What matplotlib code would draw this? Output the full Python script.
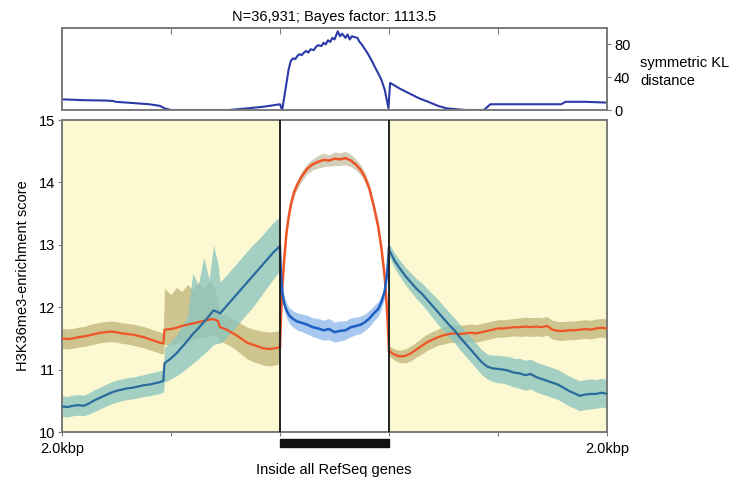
import numpy as np
import matplotlib
matplotlib.use('Agg')
import matplotlib.pyplot as plt
from matplotlib.patches import Rectangle

plt.rcParams['font.family'] = ['Liberation Sans', 'DejaVu Sans']

# x: 0-2 upstream flank, 2-3 gene body (scaled), 3-5 downstream flank
kl_x = [0, .2, .4, .47, .49, .6, .8, .9, .94, 1.0, 1.2, 1.4, 1.53, 1.7, 1.85, 1.95, 2.0, 2.02,
        2.05, 2.08, 2.1, 2.12, 2.14, 2.16, 2.18, 2.2, 2.22, 2.24, 2.26, 2.28, 2.31, 2.33, 2.35,
        2.38, 2.4, 2.42, 2.44, 2.46, 2.48, 2.5, 2.53, 2.55, 2.57, 2.6, 2.62, 2.64, 2.66, 2.68,
        2.71, 2.73, 2.75, 2.78, 2.8, 2.83, 2.85, 2.88, 2.9, 2.93, 2.96, 2.98, 2.995, 3.01, 3.05,
        3.1, 3.19, 3.28, 3.36, 3.45, 3.53, 3.7, 3.87, 3.93, 4.2, 4.4, 4.58, 4.62, 4.8, 5.0]
kl_y = [13, 12, 11.5, 11, 10, 9, 7, 5, 2, 0, 0, 0, 0, 2, 4, 6, 7, 0,
        25, 50, 60, 63, 62, 66, 68, 67, 70, 72, 70, 74, 73, 77, 79,
        78, 82, 80, 85, 83, 88, 86, 96, 90, 93, 88, 92, 86, 90, 89,
        88, 83, 80, 74, 70, 63, 58, 50, 45, 37, 25, 12, 2, 33, 30,
        26, 20, 14, 10, 5, 2, 0, 0, 7, 7, 7, 7, 10, 10, 9]

# upstream flank
up_x = [0, .05, .1, .15, .2, .25, .3, .35, .4, .45, .5, .55, .6, .65, .7, .75, .8, .85, .9, .93,
        .94, 1.0, 1.05, 1.1, 1.15, 1.2, 1.25, 1.3, 1.35, 1.39, 1.43, 1.45, 1.5, 1.55, 1.6, 1.65,
        1.7, 1.75, 1.8, 1.85, 1.9, 1.95, 2.0]
up_blue = [10.41, 10.40, 10.42, 10.43, 10.42, 10.46, 10.51, 10.55, 10.59, 10.63, 10.66, 10.68,
           10.70, 10.71, 10.73, 10.75, 10.76, 10.78, 10.80, 10.82,
           11.10, 11.18, 11.26, 11.36, 11.46, 11.57, 11.66, 11.76, 11.86, 11.95, 11.92, 11.90,
           12.00, 12.10, 12.20, 12.30, 12.40, 12.50, 12.60, 12.70, 12.80, 12.90, 12.98]
up_blue_lo = [10.25, 10.24, 10.26, 10.27, 10.26, 10.29, 10.33, 10.37, 10.41, 10.45, 10.48, 10.50,
              10.52, 10.53, 10.55, 10.57, 10.58, 10.60, 10.62, 10.64,
              10.80, 10.85, 10.90, 10.96, 11.03, 11.10, 11.17, 11.25, 11.33, 11.40, 11.42, 11.42,
              11.50, 11.60, 11.70, 11.80, 11.90, 12.00, 12.12, 12.24, 12.36, 12.48, 12.58]
up_blue_hi = [10.58, 10.57, 10.59, 10.60, 10.59, 10.63, 10.68, 10.72, 10.76, 10.80, 10.83, 10.85,
              10.87, 10.88, 10.90, 10.92, 10.94, 10.96, 10.98, 11.00,
              11.35, 11.45, 11.55, 11.70, 11.85, 12.55, 12.35, 12.80, 12.45, 13.00, 12.70, 12.40,
              12.50, 12.60, 12.70, 12.80, 12.90, 13.00, 13.08, 13.18, 13.28, 13.38, 13.45]
up_or = [11.50, 11.49, 11.50, 11.52, 11.53, 11.55, 11.57, 11.59, 11.60, 11.61, 11.60, 11.58,
         11.57, 11.56, 11.54, 11.52, 11.49, 11.46, 11.43, 11.42,
         11.64, 11.65, 11.67, 11.70, 11.72, 11.74, 11.76, 11.78, 11.80, 11.81, 11.78, 11.68,
         11.65, 11.60, 11.55, 11.49, 11.43, 11.40, 11.37, 11.34, 11.33, 11.34, 11.36]
up_or_lo = [11.34, 11.33, 11.34, 11.36, 11.37, 11.39, 11.41, 11.43, 11.44, 11.45, 11.44, 11.42,
            11.41, 11.39, 11.37, 11.35, 11.32, 11.29, 11.26, 11.25,
            11.40, 11.40, 11.42, 11.45, 11.47, 11.49, 11.50, 11.52, 11.54, 11.55, 11.53, 11.45,
            11.42, 11.37, 11.31, 11.24, 11.17, 11.13, 11.10, 11.07, 11.06, 11.07, 11.10]
up_or_hi = [11.66, 11.65, 11.66, 11.68, 11.69, 11.72, 11.74, 11.76, 11.77, 11.78, 11.77, 11.75,
            11.74, 11.73, 11.71, 11.69, 11.66, 11.63, 11.60, 11.59,
            12.30, 12.20, 12.32, 12.25, 12.36, 12.28, 12.40, 12.30, 12.42, 12.35, 12.10, 11.90,
            11.88, 11.83, 11.79, 11.73, 11.68, 11.65, 11.63, 11.61, 11.60, 11.61, 11.63]

# gene body
gb_x = [2.0, 2.01, 2.02, 2.04, 2.06, 2.08, 2.1, 2.13, 2.16, 2.2, 2.25, 2.3, 2.35, 2.4, 2.45,
        2.5, 2.55, 2.6, 2.65, 2.7, 2.74, 2.78, 2.82, 2.86, 2.9, 2.93, 2.96, 2.98, 2.99, 3.0]
gb_or = [11.36, 11.90, 12.30, 12.80, 13.20, 13.45, 13.65, 13.85, 13.97, 14.10, 14.22, 14.29,
         14.33, 14.36, 14.35, 14.38, 14.37, 14.39, 14.35, 14.28, 14.20, 14.08, 13.90, 13.62,
         13.30, 12.95, 12.50, 12.00, 11.70, 11.30]
gb_blue = [12.95, 12.50, 12.25, 12.05, 11.95, 11.88, 11.84, 11.80, 11.77, 11.75, 11.72, 11.68,
           11.66, 11.63, 11.65, 11.60, 11.62, 11.63, 11.68, 11.70, 11.72, 11.76, 11.82, 11.90,
           11.97, 12.08, 12.25, 12.50, 12.70, 12.95]
gb_or_err = [0.04, 0.05, 0.05, 0.06, 0.06, 0.06, 0.07, 0.07, 0.07, 0.08, 0.08, 0.09, 0.10, 0.11,
             0.09, 0.11, 0.10, 0.11, 0.10, 0.09, 0.08, 0.08, 0.07, 0.07, 0.07, 0.06, 0.06, 0.05,
             0.05, 0.04]
gb_blue_err = [0.07, 0.09, 0.10, 0.11, 0.12, 0.12, 0.13, 0.13, 0.14, 0.14, 0.15, 0.15, 0.16,
               0.16, 0.17, 0.16, 0.16, 0.15, 0.15, 0.14, 0.14, 0.13, 0.13, 0.12, 0.12, 0.11,
               0.10, 0.09, 0.08, 0.07]

# downstream flank
dn_x = [3.0, 3.05, 3.1, 3.15, 3.2, 3.25, 3.3, 3.35, 3.4, 3.45, 3.5, 3.55, 3.6, 3.65, 3.7, 3.75,
        3.8, 3.85, 3.9, 3.95, 4.0, 4.05, 4.1, 4.15, 4.2, 4.25, 4.3, 4.35, 4.4, 4.45, 4.5, 4.55,
        4.6, 4.65, 4.7, 4.75, 4.8, 4.85, 4.9, 4.95, 5.0]
dn_blue = [12.92, 12.75, 12.62, 12.50, 12.40, 12.30, 12.22, 12.12, 12.02, 11.92, 11.82, 11.72,
           11.63, 11.52, 11.42, 11.32, 11.22, 11.12, 11.05, 11.02, 11.01, 11.00, 10.98, 10.95,
           10.94, 10.91, 10.93, 10.88, 10.85, 10.82, 10.79, 10.76, 10.71, 10.66, 10.62, 10.58,
           10.60, 10.61, 10.61, 10.63, 10.61]
dn_blue_err = [0.10, 0.12, 0.13, 0.14, 0.15, 0.16, 0.17, 0.18, 0.19, 0.20, 0.20, 0.20, 0.20,
               0.20, 0.20, 0.20, 0.20, 0.20, 0.20, 0.21, 0.22, 0.22, 0.23, 0.23, 0.24, 0.24,
               0.24, 0.24, 0.24, 0.24, 0.24, 0.24, 0.24, 0.24, 0.24, 0.24, 0.24, 0.24, 0.23,
               0.23, 0.23]
dn_or = [11.30, 11.24, 11.21, 11.22, 11.26, 11.32, 11.38, 11.44, 11.48, 11.52, 11.55, 11.57,
         11.58, 11.57, 11.58, 11.59, 11.58, 11.60, 11.62, 11.64, 11.66, 11.66, 11.67, 11.68,
         11.68, 11.69, 11.68, 11.69, 11.68, 11.70, 11.64, 11.62, 11.62, 11.63, 11.63, 11.64,
         11.65, 11.64, 11.66, 11.67, 11.66]
dn_or_err = [0.08, 0.09, 0.10, 0.11, 0.12, 0.12, 0.13, 0.13, 0.13, 0.13, 0.14, 0.14, 0.14,
             0.14, 0.14, 0.14, 0.14, 0.14, 0.14, 0.14, 0.14, 0.14, 0.14, 0.14, 0.15, 0.15,
             0.15, 0.15, 0.15, 0.15, 0.15, 0.15, 0.15, 0.15, 0.15, 0.15, 0.15, 0.15, 0.15,
             0.15, 0.15]

flank_labels = ['2.0kbp', '', '', '', '', '2.0kbp']

ORANGE = '#ef5426'
BLUE_FLANK = '#2a6a9c'
BLUE_GENE = '#1c5fc2'
TEAL = '#8ec6c0'
OLIVE = '#c6bb82'
LIGHTBLUE = '#93bbec'
YELLOW = '#fcf8d2'
SPINE = '#7a7a7a'
FS = 10.5

fig = plt.figure(figsize=(7.41, 4.84), dpi=100)
ax_kl = fig.add_axes([62/741, 1-110/484, 545/741, 82/484])
ax = fig.add_axes([62/741, 1-432/484, 545/741, 312/484])

# --- KL distance panel
ax_kl.plot(kl_x, kl_y, color='#2b3aa6', lw=1.5)
ax_kl.set_xlim(0, 5)
ax_kl.set_ylim(0, 100)
ax_kl.yaxis.tick_right()
ax_kl.set_yticks([0, 40, 80])
ax_kl.tick_params(axis='y', labelsize=FS, length=3, pad=2, color=SPINE)
ax_kl.set_xticks(range(6))
ax_kl.tick_params(axis='x', bottom=False, top=True, direction='in', length=4,
                  labelbottom=False, color=SPINE)
for s in ax_kl.spines.values():
    s.set_color(SPINE)
    s.set_linewidth(1.4)
ax_kl.set_title('N=36,931; Bayes factor: 1113.5', fontsize=FS, pad=5)
fig.text(640/741, 1-72/484, 'symmetric KL\ndistance', fontsize=FS, va='center',
         ha='left', linespacing=1.3)

# --- enrichment panel
ax.axvspan(0, 2, color=YELLOW, lw=0, zorder=0)
ax.axvspan(3, 5, color=YELLOW, lw=0, zorder=0)

ax.fill_between(up_x, up_or_lo, up_or_hi, color=OLIVE, lw=0, alpha=0.85, zorder=1)
ax.fill_between(up_x, up_blue_lo, up_blue_hi, color=TEAL, lw=0, alpha=0.8, zorder=1)
ax.plot(up_x, up_or, color=ORANGE, lw=1.6, zorder=3)
ax.plot(up_x, up_blue, color=BLUE_FLANK, lw=1.6, zorder=3)

gb_or_a = np.array(gb_or)
gb_blue_a = np.array(gb_blue)
ax.fill_between(gb_x, gb_or_a - gb_or_err, gb_or_a + gb_or_err, color='#c9c2a8',
                lw=0, alpha=0.8, zorder=1)
ax.fill_between(gb_x, gb_blue_a - gb_blue_err, gb_blue_a + gb_blue_err, color=LIGHTBLUE,
                lw=0, alpha=0.8, zorder=1)
ax.plot(gb_x, gb_or, color=ORANGE, lw=1.8, zorder=3)
ax.plot(gb_x, gb_blue, color=BLUE_GENE, lw=1.8, zorder=3)

dn_or_a = np.array(dn_or)
dn_blue_a = np.array(dn_blue)
ax.fill_between(dn_x, dn_or_a - dn_or_err, dn_or_a + dn_or_err, color=OLIVE, lw=0,
                alpha=0.85, zorder=1)
ax.fill_between(dn_x, dn_blue_a - dn_blue_err, dn_blue_a + dn_blue_err, color=TEAL, lw=0,
                alpha=0.8, zorder=1)
ax.plot(dn_x, dn_or, color=ORANGE, lw=1.6, zorder=3)
ax.plot(dn_x, dn_blue, color=BLUE_FLANK, lw=1.6, zorder=3)

ax.axvline(2, color='#222222', lw=1.4, zorder=4)
ax.axvline(3, color='#222222', lw=1.4, zorder=4)

ax.set_xlim(0, 5)
ax.set_ylim(10, 15)
ax.set_yticks(range(10, 16))
ax.set_xticks(range(6))
ax.set_xticklabels(flank_labels)
ax.tick_params(axis='both', labelsize=FS, length=3, color=SPINE, pad=2)
ax.tick_params(axis='x', pad=4)
ax.set_ylabel('H3K36me3-enrichment score', fontsize=FS, labelpad=6)
for s in ax.spines.values():
    s.set_color(SPINE)
    s.set_linewidth(1.4)

# gene body bar and label below the axis
ax.add_patch(Rectangle((2, 9.76), 1, 0.13, color='#111111', clip_on=False, zorder=5))
fig.text(334/741, 1-470/484, 'Inside all RefSeq genes', fontsize=FS, ha='center',
         va='center')

fig.savefig('out.png', dpi=100)
